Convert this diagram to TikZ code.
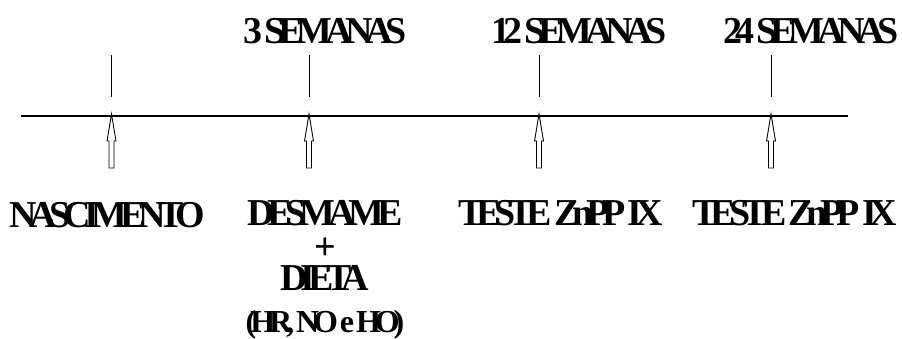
\documentclass[tikz,border=0pt]{standalone}
\usepackage{fontspec}
\setmainfont{Liberation Serif}
\newfontfamily\labelfont[LetterSpace=-19]{Liberation Serif}
\newcommand\biglbl{\labelfont\bfseries\fontsize{38}{32}\selectfont}
\newcommand\smalllbl{\labelfont\bfseries\fontsize{32}{32}\selectfont}
\begin{document}
\begin{tikzpicture}[x=1pt,y=-1pt,
  lbl/.style={font=\biglbl, inner sep=0pt, anchor=base},
  stack/.style={font=\biglbl, inner sep=0pt, align=center, anchor=base},
  timeline/.style={line width=1.3pt},
  tick/.style={line width=1pt},
  eventarrow/.style={line width=0.9pt, fill=white}]
\useasboundingbox (0,0) rectangle (902,338);

% time axis
\coordinate (axisL) at (21,116);
\coordinate (axisR) at (848,116);
\draw[timeline] (axisL) -- (axisR);

% event positions on the axis
\foreach \n/\x in {a/111.5, b/309, c/539, d/771} {
  \coordinate (\n) at (\x,116);
  \coordinate (\n top) at (\x,55);
  \coordinate (\n bot) at (\x,97);
  \draw[tick] (\n top) -- (\n bot);
  % hollow arrow pointing up to the axis
  \draw[eventarrow] ([yshift=2]\n) -- ++(4.5,27) -- ++(-2,0) -- ++(0,27)
     -- ++(-5,0) -- ++(0,-27) -- ++(-2,0) -- cycle;
}

% period labels
\node[lbl] (w3)  at (325,43) {3 SEMANAS};
\node[lbl] (w12) at (579,43) {12 SEMANAS};
\node[lbl] (w24) at (811,43) {24 SEMANAS};

% event labels
\node[lbl] (nasc) at (107.5,227) {NASCIMENTO};
\node[stack] (desm) at (325,332)
  {DESMAME\\[2pt]+\\[-1pt]DIETA\\[10pt]{\smalllbl (HR, NO e HO)}};
\node[lbl] (zn12) at (560.5,225) {TESTE ZnPP IX};
\node[lbl] (zn24) at (795,225) {TESTE ZnPP IX};
\end{tikzpicture}
\end{document}
